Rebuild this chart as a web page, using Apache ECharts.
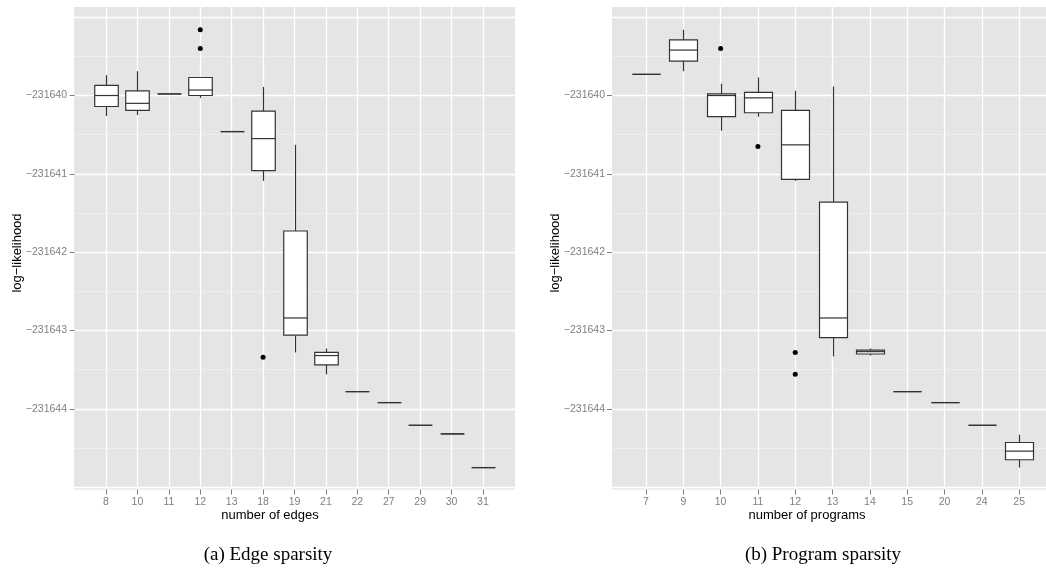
<!DOCTYPE html>
<html><head><meta charset="utf-8">
<script src="https://cdn.jsdelivr.net/npm/echarts@6/dist/echarts.min.js"></script>
<style>html,body{margin:0;padding:0;background:#fff}#c{width:1046px;height:570px}</style>
</head><body><div id="c"></div><script>
// ---- Panel (a): Edge sparsity ----
const edgeCategories = ['8','10','11','12','13','18','19','21','22','27','29','30','31'];
const edgeMin    = [-231640.26,-231640.25,-231639.98,-231640.03,-231640.46,-231641.09,-231643.28,-231643.56,-231643.78,-231643.92,-231644.21,-231644.32,-231644.75];
const edgeQ1     = [-231640.14,-231640.19,-231639.98,-231640.00,-231640.46,-231640.96,-231643.06,-231643.44,-231643.78,-231643.92,-231644.21,-231644.32,-231644.75];
const edgeMedian = [-231640.00,-231640.10,-231639.98,-231639.93,-231640.46,-231640.55,-231642.84,-231643.32,-231643.78,-231643.92,-231644.21,-231644.32,-231644.75];
const edgeQ3     = [-231639.87,-231639.94,-231639.98,-231639.77,-231640.46,-231640.20,-231641.73,-231643.28,-231643.78,-231643.92,-231644.21,-231644.32,-231644.75];
const edgeMax    = [-231639.74,-231639.69,-231639.98,-231639.77,-231640.46,-231639.89,-231640.63,-231643.23,-231643.78,-231643.92,-231644.21,-231644.32,-231644.75];
const edgeOutlierCats   = ['12','12','18'];
const edgeOutlierValues = [-231639.16,-231639.40,-231643.34];

// ---- Panel (b): Program sparsity ----
const progCategories = ['7','9','10','11','12','13','14','15','20','24','25'];
const progMin    = [-231639.73,-231639.69,-231640.45,-231640.27,-231641.09,-231643.33,-231643.32,-231643.78,-231643.92,-231644.21,-231644.75];
const progQ1     = [-231639.73,-231639.56,-231640.27,-231640.22,-231641.07,-231643.09,-231643.30,-231643.78,-231643.92,-231644.21,-231644.65];
const progMedian = [-231639.73,-231639.42,-231640.00,-231640.03,-231640.63,-231642.84,-231643.27,-231643.78,-231643.92,-231644.21,-231644.54];
const progQ3     = [-231639.73,-231639.29,-231639.98,-231639.96,-231640.19,-231641.36,-231643.25,-231643.78,-231643.92,-231644.21,-231644.43];
const progMax    = [-231639.73,-231639.16,-231639.85,-231639.77,-231639.94,-231639.885,-231643.23,-231643.78,-231643.92,-231644.21,-231644.33];
const progOutlierCats   = ['10','11','12','12'];
const progOutlierValues = [-231639.40,-231640.65,-231643.28,-231643.56];

// ---- Axis ticks / gridlines ----
const yTickLabels = [-231644,-231643,-231642,-231641,-231640];
const yExtraMajor = [-231645,-231644,-231643,-231642,-231641,-231640,-231639];
const yMinor      = [-231644.5,-231643.5,-231642.5,-231641.5,-231640.5,-231639.5];
const yRange      = [-231645.03,-231638.87];

const FONT = 'Liberation Sans, Arial, sans-serif';
const GREY = '#7F7F7F';
const LINE = '#333333';

function boxData(cats, mn, q1, md, q3, mx) {
  return cats.map((c, i) => [i + 1, mn[i], q1[i], md[i], q3[i], mx[i]]);
}
function outlierData(cats, oc, ov) {
  return oc.map((c, i) => [cats.indexOf(c) + 1, ov[i]]);
}
function renderBox(params, api) {
  const x = api.value(0);
  const lo = api.coord([x, api.value(1)]);
  const q1 = api.coord([x, api.value(2)]);
  const md = api.coord([x, api.value(3)]);
  const q3 = api.coord([x, api.value(4)]);
  const hi = api.coord([x, api.value(5)]);
  const w = api.size([1, 0])[0] * 0.75;
  const cx = Math.round(lo[0]) + 0.5;
  const ls = {stroke: LINE, lineWidth: 1.2};
  return {type: 'group', children: [
    {type: 'line', shape: {x1: cx, y1: hi[1], x2: cx, y2: q3[1]}, style: ls},
    {type: 'line', shape: {x1: cx, y1: q1[1], x2: cx, y2: lo[1]}, style: ls},
    {type: 'rect', shape: {x: cx - w / 2, y: q3[1], width: w, height: q1[1] - q3[1]},
      style: {fill: '#ffffff', stroke: LINE, lineWidth: 1.2}},
    {type: 'line', shape: {x1: cx - w / 2, y1: md[1], x2: cx + w / 2, y2: md[1]}, style: ls}
  ]};
}
function xAxisFor(gi, cats, min, max) {
  const idx = cats.map((c, i) => i + 1);
  return {
    type: 'value', gridIndex: gi, min: min, max: max,
    axisLine: {show: false},
    axisTick: {show: true, length: 5, lineStyle: {color: GREY, width: 1}, customValues: idx},
    axisLabel: {customValues: idx, formatter: v => cats[Math.round(v) - 1], color: GREY,
      fontSize: 10.5, fontFamily: FONT, margin: 7},
    splitLine: {show: true, lineStyle: {color: '#ffffff', width: 1.3}}
  };
}
function yAxesFor(gi) {
  return [
    {type: 'value', gridIndex: gi, min: yRange[0], max: yRange[1], position: 'left',
      axisLine: {show: false},
      axisTick: {show: true, length: 5, lineStyle: {color: GREY, width: 1}, customValues: yTickLabels},
      axisLabel: {customValues: yTickLabels, formatter: v => '\u2212' + Math.abs(v), color: GREY,
        fontSize: 10.5, fontFamily: FONT, margin: 7},
      splitLine: {show: false}},
    {type: 'value', gridIndex: gi, min: yRange[0], max: yRange[1], position: 'left',
      axisLine: {show: false}, axisLabel: {show: false},
      axisTick: {show: false, customValues: yExtraMajor},
      splitLine: {show: true, lineStyle: {color: '#ffffff', width: 1.3}}},
    {type: 'value', gridIndex: gi, min: yRange[0], max: yRange[1], position: 'left',
      axisLine: {show: false}, axisLabel: {show: false},
      axisTick: {show: false, customValues: yMinor},
      splitLine: {show: true, lineStyle: {color: '#F2F2F2', width: 0.7}}}
  ];
}

const chart = echarts.init(document.getElementById('c'), null, {renderer: 'canvas'});
const option = {
  backgroundColor: '#ffffff',
  animation: false,
  grid: [
    {left: 74, top: 7, width: 441, height: 482.5, show: true, backgroundColor: '#E5E5E5',
      borderWidth: 0, containLabel: false, outerBoundsMode: 'none'},
    {left: 612, top: 7, width: 434, height: 482.5, show: true, backgroundColor: '#E5E5E5',
      borderWidth: 0, containLabel: false, outerBoundsMode: 'none'}
  ],
  xAxis: [
    xAxisFor(0, edgeCategories, -0.02, 14.02),
    xAxisFor(1, progCategories, 0.089, 11.72)
  ],
  yAxis: yAxesFor(0).concat(yAxesFor(1)),
  series: [
    {type: 'custom', xAxisIndex: 0, yAxisIndex: 0, renderItem: renderBox,
      encode: {x: 0, y: [1, 2, 3, 4, 5]},
      data: boxData(edgeCategories, edgeMin, edgeQ1, edgeMedian, edgeQ3, edgeMax)},
    {type: 'scatter', xAxisIndex: 0, yAxisIndex: 0, symbolSize: 5,
      itemStyle: {color: '#000000', opacity: 1},
      data: outlierData(edgeCategories, edgeOutlierCats, edgeOutlierValues)},
    {type: 'custom', xAxisIndex: 1, yAxisIndex: 3, renderItem: renderBox,
      encode: {x: 0, y: [1, 2, 3, 4, 5]},
      data: boxData(progCategories, progMin, progQ1, progMedian, progQ3, progMax)},
    {type: 'scatter', xAxisIndex: 1, yAxisIndex: 3, symbolSize: 5,
      itemStyle: {color: '#000000', opacity: 1},
      data: outlierData(progCategories, progOutlierCats, progOutlierValues)}
  ],
  graphic: [
    {type: 'text', x: 17, y: 253, rotation: Math.PI / 2,
      style: {text: 'log\u2212likelihood', font: '13px ' + FONT, fill: '#000', align: 'center', verticalAlign: 'middle'}},
    {type: 'text', x: 555, y: 253, rotation: Math.PI / 2,
      style: {text: 'log\u2212likelihood', font: '13px ' + FONT, fill: '#000', align: 'center', verticalAlign: 'middle'}},
    {type: 'text', x: 270, y: 515,
      style: {text: 'number of edges', font: '13px ' + FONT, fill: '#000', align: 'center', verticalAlign: 'middle'}},
    {type: 'text', x: 807, y: 515,
      style: {text: 'number of programs', font: '13px ' + FONT, fill: '#000', align: 'center', verticalAlign: 'middle'}},
    {type: 'text', x: 268, y: 555,
      style: {text: '(a) Edge sparsity', font: '19px Liberation Serif, Times New Roman, serif', fill: '#000', align: 'center', verticalAlign: 'middle'}},
    {type: 'text', x: 823, y: 555,
      style: {text: '(b) Program sparsity', font: '19px Liberation Serif, Times New Roman, serif', fill: '#000', align: 'center', verticalAlign: 'middle'}}
  ]
};
chart.setOption(option);
</script></body></html>
